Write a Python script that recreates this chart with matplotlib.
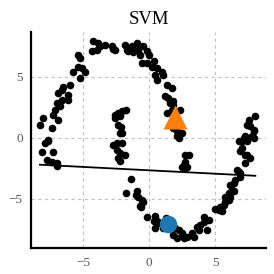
import numpy as np
import matplotlib
matplotlib.use("Agg")
import matplotlib.pyplot as plt

# scatter data
pts_x = [-8.13, -7.88, -7.67, -7.27, -7.75, -7.37, -7.0, -7.0, -7.65, -8.26, -7.37, -8.0, -7.25, -6.87,
         -7.12, -6.74, -7.0, -6.6, -6.87, -6.11, -6.11, -6.49, -5.98, -6.6, -5.73, -5.35, -5.23, -5.23,
         -5.35, -4.85, -5.1,
         -4.22, -4.34, -3.96, -3.71, -3.84, -3.33, -2.83, -2.58, -1.82, -1.69, -1.57, -1.31, -0.93, -0.81,
         -0.68, -0.43, -0.17, -0.05, -0.55, -0.17, 0.33, 0.2, 0.58, 0.96, 0.45, 0.58, 1.08, -2.7, -1.19,
         1.34, 1.72, 1.21, 1.46, 1.59, 1.84, 1.34, 1.72, 2.35, 1.97, 1.84, 2.1, 2.48, 2.1, 2.35, 2.22, 1.84,
         -2.58, -2.33, -2.07, -1.74, -2.58, -2.2, -2.33, -2.2, -2.07, -2.7, -2.45, -2.07, -2.45, -2.2,
         -1.82, -2.33, -2.2, -2.1,
         -1.36, -1.74, -0.93, -0.98, -0.81, -0.55, -0.43, -0.63, -0.17, 0.45, 0.58, 0.45, 1.08, 0.83,
         1.84, 2.1, 2.6, 2.48, 2.85, 3.23, 3.36, 3.61, 3.74, 3.86, 4.11, 4.37, 4.11, 4.49, 2.22, 1.97,
         1.3, 1.8, 0.33, -0.68,
         5.0, 5.25, 5.5, 5.38, 5.63, 5.76, 6.0, 5.76, 6.14, 6.0, 6.39, 6.14, 6.39, 6.52, 6.77, 6.64, 6.9,
         6.9, 6.26,
         6.77, 7.02, 7.27, 7.65, 7.27, 7.15, 7.9, 6.9, 7.27, 7.4, 7.4, 7.9, 7.52, 8.03, 7.4, 7.65, 7.9,
         7.78, 7.02,
         2.73, 2.98, 2.73, 2.6, 2.48, 2.73, 2.85]
pts_y = [-1.2, -0.41, -0.3, -1.2, -1.8, -1.94, -2.07, -2.3, -0.16, 1.07, 0.8, 1.6, 1.9, 1.48,
         2.3, 2.57, 2.84, 3.1, 3.66, 3.5, 3.1, 4.2, 4.34, 3.93, 5.43, 5.84, 4.89, 6.53,
         6.8, 5.43, 5.7,
         7.9, 7.07, 7.2, 7.48, 7.76, 7.62, 7.48, 7.2, 7.62, 7.2, 7.07, 7.48, 7.76, 7.2,
         6.8, 7.48, 7.07, 6.8, 6.12, 6.12, 6.25, 5.84, 5.71, 5.43, 5.16, 4.75, 5.16, 7.3, 7.05,
         4.34, 4.07, 3.39, 3.25, 2.84, 2.98, 2.02, 2.3, 2.3, 1.48, 0.8, 0.52, 0.39, 0.11, 0.39, -0.02, 2.68,
         1.89, 2.02, 2.16, 2.24, 1.61, 1.75, 1.07, 0.39, 0.39, -0.57, -0.43, -0.43, -0.98, -1.25,
         -1.39, -1.66, -1.86, 0.9,
         -3.39, -4.48, -4.39, -4.67, -4.81, -5.08, -5.22, -5.68, -6.5, -6.39, -6.78, -7.4, -7.4, -6.99,
         -7.95, -8.22, -8.22, -7.81, -8.09, -7.81, -8.09, -7.27, -7.54, -7.13, -6.86, -7.54, -6.5, -6.72,
         -7.54, -7.4, -6.6, -7.3, -6.83, -5.6,
         -5.84, -5.9, -5.96, -5.63, -5.49, -5.22, -5.08, -4.81, -4.81, -4.53, -4.39, -3.85, -3.71, -3.44,
         -2.76, -2.62, -2.89, -3.17, -4.26,
         -0.27, -0.82, -1.37, -1.64, -2.05, 0.0, 0.0, -1.09, 0.11, -0.3, -1.39, 0.52, 1.48, 1.8, 1.07,
         0.93, 0.66, 0.11, -0.3,
         -1.39, -1.39, -1.94, -2.21, -2.35, -2.48, -2.35]

# decision line coefficients (slope, intercept)
line_coef = [-0.0557, -2.66]
# highlighted points
tri_xy = [1.97, 1.69]
circ_xy = [1.46, -7.05]

title = "SVM"
ticks = [-5, 0, 5]

plt.rcParams['font.family'] = ['Liberation Serif', 'DejaVu Serif']
fig = plt.figure(figsize=(2.74, 2.74), dpi=100)
ax = fig.add_axes([0.113, 0.094, 0.858, 0.789])

ax.scatter(pts_x, pts_y, s=30, color='black', zorder=3, linewidths=0)
lx = np.array([min(pts_x), max(pts_x)])
ax.plot(lx, line_coef[0] * lx + line_coef[1], color='black', lw=1.3, zorder=4)
ax.scatter([tri_xy[0]], [tri_xy[1]], marker='^', s=300, color='#ff7f0e', zorder=5, linewidths=0)
ax.scatter([circ_xy[0]], [circ_xy[1]], marker='o', s=160, color='#1f77b4', zorder=5, linewidths=0)

ax.set_xlim(-8.94, 8.84)
ax.set_ylim(-9.04, 8.66)
ax.set_xticks(ticks)
ax.set_yticks(ticks)
ax.set_xticklabels(["\u22125", "0", "5"])
ax.set_yticklabels(["\u22125", "0", "5"])
ax.grid(True, linestyle=(0, (3, 3)), color='#c0c0c0', linewidth=0.8, zorder=0)
ax.set_axisbelow(True)
for s in ['top', 'right']:
    ax.spines[s].set_visible(False)
for s in ['left', 'bottom']:
    ax.spines[s].set_linewidth(1.6)
    ax.spines[s].set_color('black')
ax.tick_params(length=0, labelsize=9.5, labelcolor='#555555', pad=6)
ax.set_title(title, fontsize=13.5, pad=6)

fig.savefig("out.png", dpi=100)
